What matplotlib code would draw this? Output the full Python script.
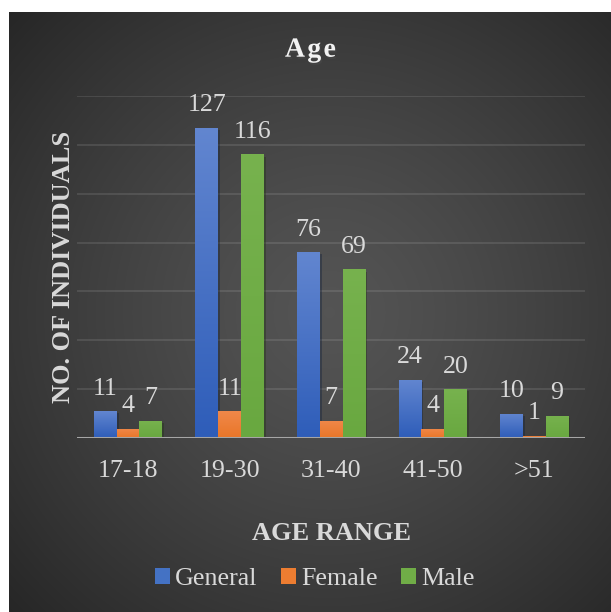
import numpy as np
import matplotlib
matplotlib.use('Agg')
import matplotlib.pyplot as plt
import matplotlib.patheffects as pe
from matplotlib.colors import to_rgb
from matplotlib.patches import Patch

# survey counts per age bracket
age_ranges = ['17-18', '19-30', '31-40', '41-50', '>51']
general = [11, 127, 76, 24, 10]
female = [4, 11, 7, 4, 1]
male = [7, 116, 69, 20, 9]
series_names = ['General', 'Female', 'Male']

# fill colours: (legend, top of bar, bottom of bar)
colors = {
    'General': ('#4472c4', '#6286d0', '#2e5db9'),
    'Female': ('#ed7d31', '#f0884a', '#e97628'),
    'Male': ('#70ad47', '#77b24e', '#69a840'),
}
text_color = '#d9d9d9'
fs = 18.7

plt.rcParams['font.family'] = ['Liberation Serif', 'DejaVu Serif']

W, H = 611, 612
fig = plt.figure(figsize=(W / 100, H / 100), dpi=100)
fig.patch.set_facecolor('white')

# dark panel with a soft radial glow in the middle
px0, py0 = 9, 12
pw, ph = W - px0, H - py0
bg = fig.add_axes([px0 / W, 0, pw / W, ph / H])
bg.set_axis_off()
yy, xx = np.mgrid[0:ph, 0:pw]
r = np.clip(np.hypot(xx - 320, yy - 300) / 440, 0, 1)
g = 0.33 - 0.18 * r ** 1.3
bg.imshow(np.dstack([g, g, g]), aspect='auto', interpolation='bilinear')

ax = fig.add_axes([77.3 / W, 1 - 438.3 / H, (585 - 77.3) / W, (438.3 - 95.7) / H])
ax.patch.set_alpha(0)

x = np.arange(len(age_ranges))
width = 0.224
shadow = [pe.SimplePatchShadow(offset=(1.5, -1.5), alpha=0.4), pe.Normal()]

for i, (name, values) in enumerate(zip(series_names, [general, female, male])):
    base, top, bottom = colors[name]
    bars = ax.bar(x + (i - 1) * width, values, width, color=base,
                  path_effects=shadow, zorder=2)
    ramp = np.linspace(0, 1, 256)[:, None, None]
    grad = (1 - ramp) * np.array(to_rgb(bottom)) + ramp * np.array(to_rgb(top))
    for rect, v in zip(bars, values):
        x0 = rect.get_x()
        im = ax.imshow(grad, extent=[x0, x0 + rect.get_width(), 0, rect.get_height()],
                       origin='lower', aspect='auto', zorder=2.1)
        im.set_clip_path(rect)
        ax.annotate(str(v), (x0 + rect.get_width() / 2, v), xytext=(0, 8.5),
                    textcoords='offset points', ha='center', va='bottom',
                    fontsize=fs, color=text_color, zorder=4)

ax.set_xlim(-0.5, len(age_ranges) - 0.5)
ax.set_ylim(0, 140)
ax.set_yticks(range(0, 141, 20))
ax.grid(axis='y', color='white', alpha=0.1, lw=1.5)
ax.set_axisbelow(True)
ax.axhline(0, color='#a6a6a6', lw=2.2, zorder=3)
for s in ax.spines.values():
    s.set_visible(False)

ax.set_xticks(x, age_ranges)
ax.tick_params(axis='x', length=0, pad=15.5, colors=text_color, labelsize=fs)
ax.tick_params(axis='y', left=False, labelleft=False)

title_shadow = [pe.withSimplePatchShadow(offset=(1, -1.5), alpha=0.6)]
fig.text(310.5 / W, 1 - 56.7 / H, 'A\u200ag\u200ae', ha='center', va='baseline',
         fontsize=20, fontweight='bold', color='#f2f2f2', path_effects=title_shadow)

fig.text(331 / W, 1 - 540 / H, 'AGE RANGE', ha='center', va='baseline',
         fontsize=19, fontweight='bold', color=text_color)
fig.text(70 / W, 1 - 267 / H, 'NO. OF INDIVIDUALS', rotation=90, rotation_mode='anchor',
         ha='center', va='baseline', fontsize=19, fontweight='bold', color=text_color)

handles = [Patch(facecolor=colors[n][0], edgecolor='none') for n in series_names]
fig.legend(handles, series_names, loc='center', bbox_to_anchor=(315 / W, 1 - 579 / H),
           ncol=3, frameon=False, fontsize=fs, labelcolor=text_color,
           handlelength=0.58, handleheight=0.58, handletextpad=0.2, columnspacing=0.9)

fig.savefig('out.png', dpi=100)
